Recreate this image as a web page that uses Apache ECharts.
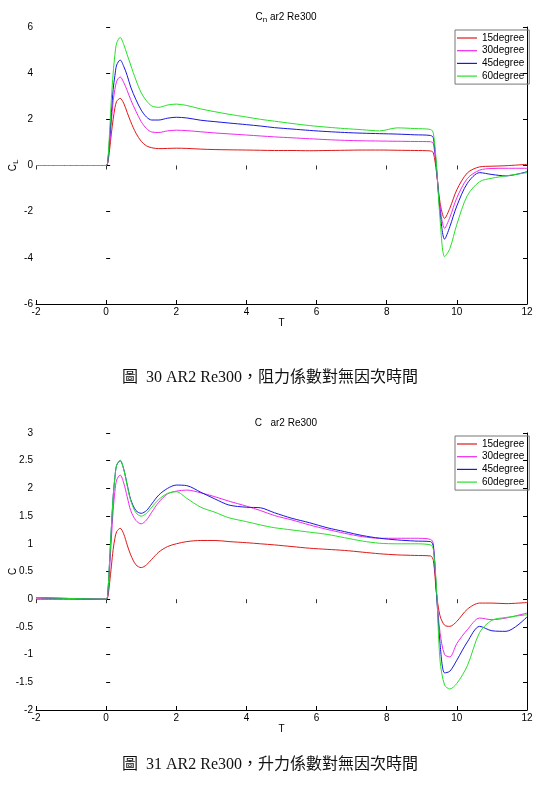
<!DOCTYPE html>
<html>
<head>
<meta charset="utf-8">
<script src="https://cdn.jsdelivr.net/npm/echarts@6/dist/echarts.min.js"></script>
<style>
html, body { margin: 0; padding: 0; background: #fff; }
#chart { width: 540px; height: 800px; }
</style>
</head>
<body>
<div id="chart"></div>
<script>
// time axis shared by both plots
var t = [-2, 0, 0.05, 0.1, 0.15, 0.2, 0.25, 0.3, 0.4, 0.5,
         0.6, 0.7, 0.85, 1.0, 1.15, 1.3, 1.5, 1.75, 2.0, 2.3,
         2.7, 3.1, 3.5, 4.0, 4.4, 4.8, 5.3, 5.8, 6.3, 6.8,
         7.3, 7.8, 8.3, 8.8, 9.25, 9.33, 9.42, 9.52, 9.65, 9.8,
         10.0, 10.3, 10.65, 11.0, 11.4, 12];

var names = ['15degree', '30degree', '45degree', '60degree'];
var colors = ['#e01818', '#f028f0', '#1818e0', '#28e028'];

// top plot
var cl15 = [0, 0, 0.15, 0.7, 1.4, 2.0, 2.5, 2.78, 2.91, 2.7,
            2.3, 1.9, 1.4, 1.05, 0.85, 0.77, 0.73, 0.74, 0.75, 0.74,
            0.71, 0.69, 0.68, 0.67, 0.66, 0.65, 0.65, 0.64, 0.65, 0.66,
            0.67, 0.67, 0.66, 0.65, 0.63, 0.55, -0.3, -1.6, -2.29, -1.85,
            -1.05, -0.32, -0.06, -0.03, -0.01, 0.05];
var cl30 = [0, 0, 0.2, 1.0, 1.9, 2.8, 3.3, 3.65, 3.84, 3.6,
            3.25, 2.85, 2.35, 1.9, 1.6, 1.45, 1.43, 1.5, 1.53, 1.51,
            1.46, 1.41, 1.37, 1.32, 1.28, 1.24, 1.2, 1.16, 1.12, 1.09,
            1.07, 1.06, 1.05, 1.04, 1.03, 0.95, -0.2, -1.8, -2.72, -2.25,
            -1.4, -0.56, -0.2, -0.13, -0.12, -0.12];
var cl45 = [0, 0, 0.25, 1.2, 2.3, 3.3, 3.9, 4.35, 4.57, 4.3,
            3.9, 3.4, 2.85, 2.4, 2.1, 1.97, 1.97, 2.05, 2.09, 2.06,
            1.96, 1.9, 1.84, 1.77, 1.71, 1.64, 1.58, 1.52, 1.47, 1.43,
            1.4, 1.38, 1.36, 1.33, 1.3, 1.2, -0.1, -2.0, -3.19, -2.65,
            -1.75, -0.77, -0.31, -0.39, -0.45, -0.27];
var cl60 = [0, 0, 0.3, 1.5, 2.9, 4.0, 4.8, 5.3, 5.55, 5.25,
            4.8, 4.35, 3.7, 3.15, 2.8, 2.58, 2.52, 2.62, 2.66, 2.6,
            2.45, 2.33, 2.22, 2.1, 2.0, 1.92, 1.82, 1.73, 1.66, 1.6,
            1.55, 1.5, 1.63, 1.6, 1.56, 1.4, 0.0, -2.3, -3.95, -3.6,
            -2.55, -1.3, -0.7, -0.55, -0.45, -0.31];

// bottom plot
var cd15 = [0, 0, 0.05, 0.3, 0.6, 0.9, 1.1, 1.22, 1.28, 1.18,
            0.98, 0.8, 0.62, 0.57, 0.62, 0.72, 0.85, 0.95, 1.0, 1.04,
            1.06, 1.06, 1.04, 1.02, 1.0, 0.98, 0.95, 0.92, 0.9, 0.88,
            0.85, 0.82, 0.8, 0.79, 0.78, 0.7, 0.1, -0.3, -0.47, -0.49,
            -0.4, -0.18, -0.07, -0.07, -0.08, -0.06];
var cd30 = [0.02, 0, 0.1, 0.55, 1.1, 1.6, 1.95, 2.15, 2.24, 2.1,
            1.85, 1.6, 1.42, 1.36, 1.43, 1.57, 1.75, 1.9, 1.95, 1.97,
            1.92, 1.85, 1.77, 1.68, 1.6, 1.51, 1.43, 1.34, 1.26, 1.19,
            1.13, 1.1, 1.1, 1.1, 1.08, 1.0, 0.1, -0.6, -1.0, -1.04,
            -0.8, -0.55, -0.34, -0.37, -0.34, -0.25];
var cd45 = [0.03, 0, 0.15, 0.7, 1.3, 1.85, 2.2, 2.42, 2.5, 2.35,
            2.07, 1.8, 1.6, 1.55, 1.6, 1.72, 1.88, 2.0, 2.06, 2.05,
            1.93, 1.81, 1.7, 1.66, 1.65, 1.56, 1.46, 1.38, 1.29, 1.22,
            1.15, 1.1, 1.07, 1.05, 1.04, 0.95, 0.1, -0.8, -1.33, -1.3,
            -1.1, -0.77, -0.49, -0.57, -0.58, -0.32];
var cd60 = [0.03, 0, 0.15, 0.7, 1.3, 1.85, 2.2, 2.42, 2.51, 2.35,
            2.05, 1.78, 1.56, 1.5, 1.55, 1.66, 1.8, 1.91, 1.94, 1.82,
            1.66, 1.57, 1.47, 1.4, 1.34, 1.29, 1.25, 1.21, 1.17, 1.11,
            1.05, 1.01, 1.0, 1.0, 0.98, 0.9, 0.2, -1.1, -1.55, -1.62,
            -1.52, -1.2, -0.6, -0.38, -0.33, -0.28];

var xTicks = { min: -2, max: 12, interval: 2 };
var yTicksTop = { min: -6, max: 6, interval: 2 };
var yTicksBottom = { min: -2, max: 3, interval: 0.5 };

var captionTop = '圖  30 AR2 Re300，阻力係數對無因次時間';
var captionBottom = '圖  31 AR2 Re300，升力係數對無因次時間';

var chart = echarts.init(document.getElementById('chart'));

function pairs(ys) {
    return t.map(function (x, i) { return [x, ys[i]]; });
}

var black = '#000';
var sub = { fontSize: 8, padding: [6, 0, 0, 0], color: black };

function bottomX(grid) {
    return {
        type: 'value', gridIndex: grid, position: 'bottom',
        min: xTicks.min, max: xTicks.max, interval: xTicks.interval,
        name: 'T', nameLocation: 'middle', nameGap: 14, nameMoveOverlap: false,
        nameTextStyle: { fontSize: 10, color: black },
        axisLine: { show: true, onZero: false, lineStyle: { color: black, width: 1 } },
        axisTick: { inside: true, length: 4, lineStyle: { color: black } },
        axisLabel: { fontSize: 10, color: black, margin: 3 },
        splitLine: { show: false }
    };
}
function topX(grid) {
    return {
        type: 'value', gridIndex: grid, position: 'top',
        min: xTicks.min, max: xTicks.max, interval: xTicks.interval,
        axisLine: { show: false },
        axisTick: { inside: true, length: 4, lineStyle: { color: '#333' } },
        axisLabel: { show: false },
        splitLine: { show: false }
    };
}
function leftY(grid, ticks, name, gap) {
    return {
        type: 'value', gridIndex: grid, position: 'left',
        min: ticks.min, max: ticks.max, interval: ticks.interval,
        name: name, nameLocation: 'middle', nameGap: gap, nameRotate: 90,
        nameMoveOverlap: false,
        nameTextStyle: { fontSize: 10, color: black, rich: { sub: sub } },
        axisLine: { show: false },
        axisTick: { show: true, inside: true, length: 4, lineStyle: { color: black } },
        axisLabel: { fontSize: 10, color: black, margin: 3 },
        splitLine: { show: false }
    };
}
function rightY(grid, ticks) {
    return {
        type: 'value', gridIndex: grid, position: 'right',
        min: ticks.min, max: ticks.max, interval: ticks.interval,
        axisLine: { show: true, onZero: false, lineStyle: { color: black, width: 1 } },
        axisTick: { show: true, inside: true, length: 4, lineStyle: { color: black } },
        axisLabel: { show: false },
        splitLine: { show: false }
    };
}
function line(name, ys, k, grid) {
    return {
        name: name, type: 'line',
        xAxisIndex: grid, yAxisIndex: grid,
        data: pairs(ys),
        showSymbol: false, smooth: 0.3,
        color: colors[k],
        lineStyle: { width: 1, color: colors[k] },
        animation: false
    };
}
function legendAt(top) {
    return {
        orient: 'vertical', left: 455, top: top,
        data: names, selectedMode: false,
        icon: 'path://M0,0H20V1.2H0Z',
        itemWidth: 20, itemHeight: 10, itemGap: 2.7, itemTextGap: 2,
        padding: [3, 5, 3, 2],
        borderColor: '#777', borderWidth: 1,
        textStyle: { fontSize: 10, color: black, lineHeight: 10 }
    };
}

var option = {
    animation: false,
    backgroundColor: '#fff',
    textStyle: { fontFamily: 'Liberation Sans, Arial, sans-serif' },
    title: [
        { text: 'C{sub|n} ar2 Re300', left: 281, top: 5, textAlign: 'center',
          textStyle: { fontSize: 10, fontWeight: 'normal', color: black, rich: { sub: sub } } },
        { text: 'C   ar2 Re300', left: 281, top: 413, textAlign: 'center',
          textStyle: { fontSize: 10, fontWeight: 'normal', color: black } }
    ],
    legend: [legendAt(30), legendAt(436)],
    grid: [
        { left: 36, right: 13, top: 27, height: 277, outerBoundsMode: 'none', containLabel: false },
        { left: 36, right: 13, top: 433, height: 277, outerBoundsMode: 'none', containLabel: false }
    ],
    xAxis: [bottomX(0), bottomX(1), topX(0), topX(1)],
    yAxis: [leftY(0, yTicksTop, 'C{sub|L}', 16), leftY(1, yTicksBottom, 'C', 18),
            rightY(0, yTicksTop), rightY(1, yTicksBottom)],
    series: [
        line(names[0], cl15, 0, 0), line(names[1], cl30, 1, 0),
        line(names[2], cl45, 2, 0), line(names[3], cl60, 3, 0),
        line(names[0], cd15, 0, 1), line(names[1], cd30, 1, 1),
        line(names[2], cd45, 2, 1), line(names[3], cd60, 3, 1)
    ],
    graphic: [
        { type: 'text', left: 'center', top: 370,
          style: { text: captionTop, fill: '#111', font: '16px "Liberation Serif", "Noto Sans CJK TC", serif' } },
        { type: 'text', left: 'center', top: 757,
          style: { text: captionBottom, fill: '#111', font: '16px "Liberation Serif", "Noto Sans CJK TC", serif' } }
    ]
};

chart.setOption(option);
</script>
</body>
</html>
